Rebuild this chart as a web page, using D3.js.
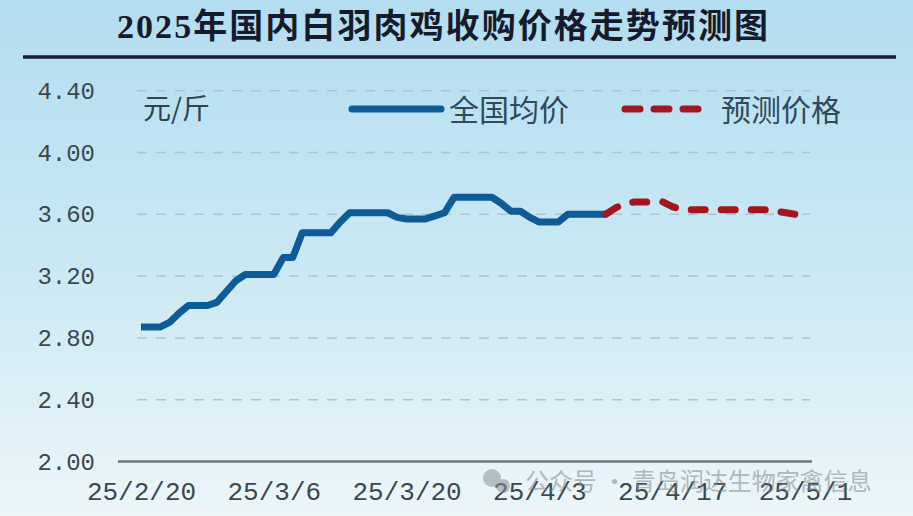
<!DOCTYPE html>
<html>
<head>
<meta charset="utf-8">
<script src="https://cdn.jsdelivr.net/npm/d3@7"></script>
<style>
  html, body { margin: 0; padding: 0; background: #e8f4f8; }
  svg { display: block; }
</style>
</head>
<body>
<svg id="chart" width="913" height="516"></svg>
<script>
// Chart data
const titleYear = '2025';
const titleText = '年国内白羽肉鸡收购价格走势预测图';
const unitLabel = '元/斤';
const seriesNames = ['全国均价', '预测价格'];
const watermark = '公众号 · 青岛润达生物家禽信息';

const startDate = new Date(2025, 1, 20);   // 25/2/20
const forecastStart = 49;                   // day index where forecast begins

// 全国均价, one value per day from 2/20
const actualValues = [
  2.87, 2.87, 2.87, 2.90, 2.96, 3.01, 3.01, 3.01, 3.03, 3.10,
  3.17, 3.21, 3.21, 3.21, 3.21, 3.32, 3.32, 3.48, 3.48, 3.48,
  3.48, 3.55, 3.61, 3.61, 3.61, 3.61, 3.61, 3.58, 3.57, 3.57,
  3.57, 3.59, 3.61, 3.71, 3.71, 3.71, 3.71, 3.71, 3.67, 3.62,
  3.62, 3.58, 3.55, 3.55, 3.55, 3.60, 3.60, 3.60, 3.60, 3.60
];

// 预测价格, one value per day from 4/10
const forecastValues = [
  3.60, 3.64, 3.67, 3.68, 3.68, 3.68, 3.68, 3.65, 3.63, 3.63,
  3.63, 3.63, 3.63, 3.63, 3.63, 3.63, 3.63, 3.63, 3.62, 3.61,
  3.60, 3.60
];

const yTicks = [2.00, 2.40, 2.80, 3.20, 3.60, 4.00, 4.40];
const xTickDays = [0, 14, 28, 42, 56, 70];

const actual = actualValues.map((v, i) => ({ date: d3.timeDay.offset(startDate, i), value: v }));
const forecast = forecastValues.map((v, i) => ({ date: d3.timeDay.offset(startDate, forecastStart + i), value: v }));

const svg = d3.select('#chart');

// Background gradient
const defs = svg.append('defs');
const bg = defs.append('linearGradient')
  .attr('id', 'bg')
  .attr('x1', 0).attr('y1', 0).attr('x2', 0).attr('y2', 1);
bg.append('stop').attr('offset', '0%').attr('stop-color', '#b3ddf0');
bg.append('stop').attr('offset', '50%').attr('stop-color', '#c9e8f4');
bg.append('stop').attr('offset', '100%').attr('stop-color', '#edf6f9');

svg.append('rect')
  .attr('width', 913)
  .attr('height', 516)
  .attr('fill', 'url(#bg)');

// Title, stretched to the reference width
const title = svg.append('text')
  .attr('x', 117)
  .attr('y', 38)
  .attr('fill', '#161b2b')
  .attr('font-weight', 'bold')
  .attr('font-size', 34)
  .attr('textLength', 651)
  .attr('lengthAdjust', 'spacing');
title.append('tspan')
  .attr('font-family', '"Liberation Serif", serif')
  .text(titleYear);
title.append('tspan')
  .attr('font-family', '"Noto Sans CJK SC", sans-serif')
  .text(titleText);

svg.append('line')
  .attr('x1', 23).attr('x2', 896)
  .attr('y1', 57).attr('y2', 57)
  .attr('stroke', '#182030')
  .attr('stroke-width', 3.5);

// Scales
const x = d3.scaleTime()
  .domain([startDate, d3.timeDay.offset(startDate, 70)])
  .range([141, 805]);

const y = d3.scaleLinear()
  .domain([2.0, 4.4])
  .range([461.5, 90.7]);

const plotLeft = 118;
const plotRight = 812;

// Gridlines
svg.append('g')
  .attr('class', 'grid')
  .selectAll('line')
  .data(yTicks.slice(1))
  .join('line')
  .attr('x1', 137)
  .attr('x2', 810)
  .attr('y1', d => y(d))
  .attr('y2', d => y(d))
  .attr('stroke', '#aec3cc')
  .attr('stroke-width', 1.5)
  .attr('stroke-dasharray', '10,9');

// Bottom axis line
svg.append('line')
  .attr('x1', plotLeft).attr('x2', plotRight)
  .attr('y1', y(2.0)).attr('y2', y(2.0))
  .attr('stroke', '#6f777c')
  .attr('stroke-width', 2.5);

// Y axis labels
const yAxis = svg.append('g')
  .attr('transform', `translate(${plotLeft},0)`)
  .call(d3.axisLeft(y).tickValues(yTicks).tickFormat(d3.format('.2f')).tickSize(0).tickPadding(23));
yAxis.select('.domain').remove();
yAxis.selectAll('text')
  .attr('font-family', '"Liberation Mono", monospace')
  .attr('font-size', 24)
  .attr('fill', '#3b4850');

// X axis labels
const xAxis = svg.append('g')
  .attr('transform', `translate(0,${y(2.0)})`)
  .call(d3.axisBottom(x)
    .tickValues(xTickDays.map(d => d3.timeDay.offset(startDate, d)))
    .tickFormat(d3.timeFormat('%y/%-m/%-d'))
    .tickSize(0)
    .tickPadding(20));
xAxis.select('.domain').remove();
xAxis.selectAll('text')
  .attr('font-family', '"Liberation Mono", monospace')
  .attr('font-size', 26)
  .attr('fill', '#3b4850');

// Lines
const line = d3.line()
  .x(d => x(d.date))
  .y(d => y(d.value));

svg.append('path')
  .datum(actual)
  .attr('fill', 'none')
  .attr('stroke', '#0d5c98')
  .attr('stroke-width', 7)
  .attr('stroke-linejoin', 'round')
  .attr('d', line);

svg.append('path')
  .datum(forecast)
  .attr('fill', 'none')
  .attr('stroke', '#a3161d')
  .attr('stroke-width', 7)
  .attr('stroke-linecap', 'round')
  .attr('stroke-linejoin', 'round')
  .attr('stroke-dasharray', '14,16')
  .attr('d', line);

// Unit label
svg.append('text')
  .attr('x', 143)
  .attr('y', 119)
  .attr('font-family', '"Noto Sans CJK SC", sans-serif')
  .attr('font-size', 28)
  .attr('fill', '#2f4350')
  .text(unitLabel);

// Legend
const legend = svg.append('g').attr('class', 'legend');
legend.append('line')
  .attr('x1', 352).attr('x2', 441)
  .attr('y1', 109).attr('y2', 109)
  .attr('stroke', '#0d5c98')
  .attr('stroke-width', 7)
  .attr('stroke-linecap', 'round');
legend.append('text')
  .attr('x', 449).attr('y', 121)
  .attr('font-family', '"Noto Sans CJK SC", sans-serif')
  .attr('font-size', 30)
  .attr('fill', '#2f4a5a')
  .text(seriesNames[0]);
legend.append('line')
  .attr('x1', 625).attr('x2', 706)
  .attr('y1', 109).attr('y2', 109)
  .attr('stroke', '#a3161d')
  .attr('stroke-width', 7)
  .attr('stroke-linecap', 'round')
  .attr('stroke-dasharray', '15,14');
legend.append('text')
  .attr('x', 721).attr('y', 121)
  .attr('font-family', '"Noto Sans CJK SC", sans-serif')
  .attr('font-size', 30)
  .attr('fill', '#2f4a5a')
  .text(seriesNames[1]);

// Watermark
const wm = svg.append('g').attr('opacity', 0.55);
wm.append('circle').attr('cx', 492).attr('cy', 478).attr('r', 9).attr('fill', '#8c9398');
wm.append('circle').attr('cx', 503).attr('cy', 486).attr('r', 7).attr('fill', '#8c9398');
wm.append('text')
  .attr('x', 525).attr('y', 490)
  .attr('font-family', '"Noto Sans CJK SC", sans-serif')
  .attr('font-size', 24)
  .attr('fill', '#80888d')
  .text(watermark);
</script>
</body>
</html>
